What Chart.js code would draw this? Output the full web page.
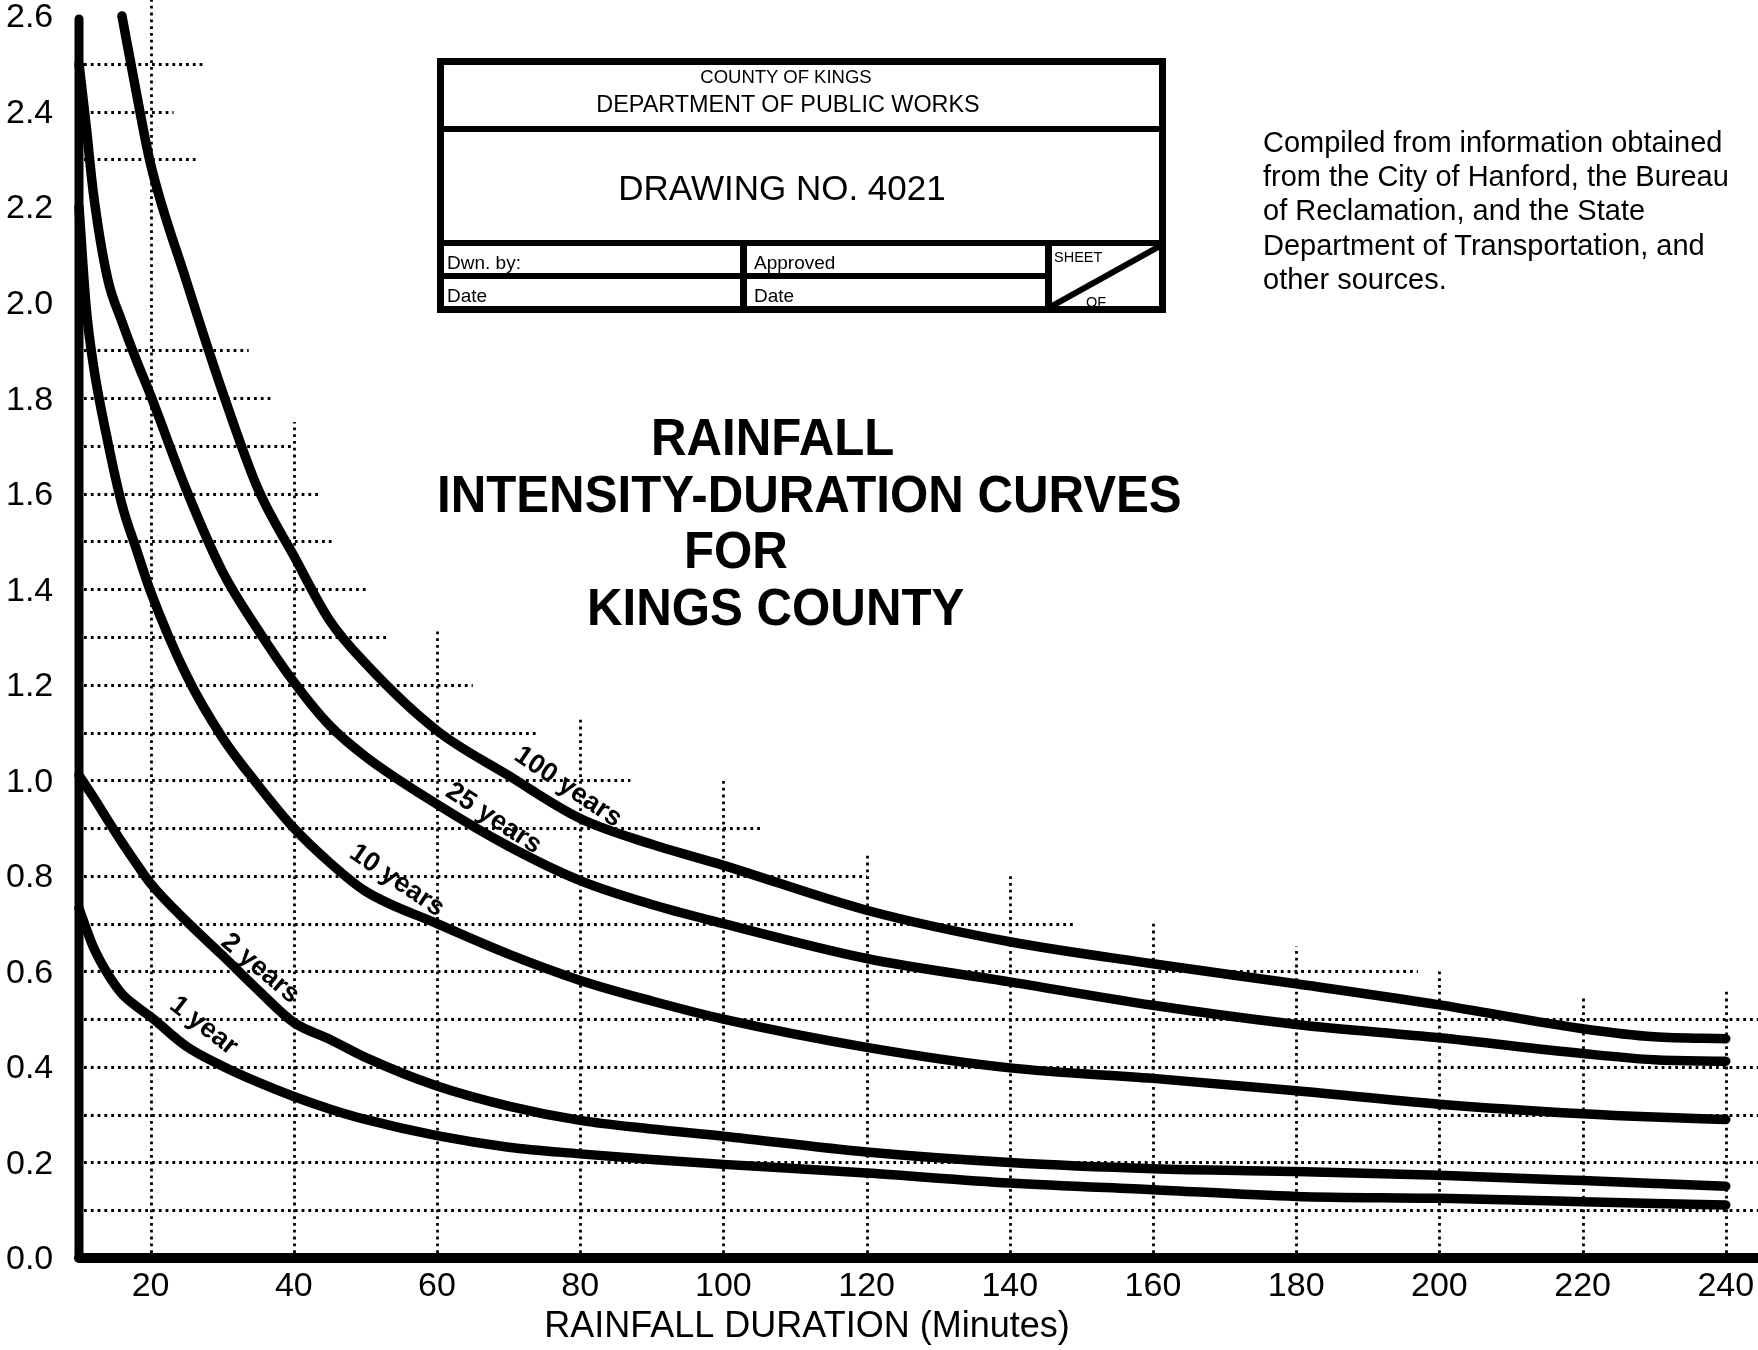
<!DOCTYPE html>
<html>
<head>
<meta charset="utf-8">
<script src="https://cdn.jsdelivr.net/npm/chart.js@4.4.1/dist/chart.umd.min.js"></script>
<style>
html,body{margin:0;padding:0;background:#fff;overflow:hidden}
#wrap{position:relative;width:1758px;height:1350px;background:#fff}
#chart{position:absolute;left:0;top:0}
.t{position:absolute;font-family:"Liberation Sans",Arial,Helvetica,sans-serif;color:#000;white-space:nowrap;line-height:1}
.c{transform:translate(-50%,-50%)}
.l{transform:translateY(-50%)}
.bd{position:absolute;background:#000}
.big{font-weight:bold;font-size:51px;transform-origin:0 50%;transform:translateY(-50%) scaleX(0.965)}
</style>
</head>
<body>
<div id="wrap">
<canvas id="chart" width="1758" height="1350"></canvas>

<!-- title block -->
<div class="bd" style="left:437px;top:58px;width:729px;height:7px"></div>
<div class="bd" style="left:437px;top:306px;width:729px;height:7px"></div>
<div class="bd" style="left:437px;top:58px;width:7px;height:255px"></div>
<div class="bd" style="left:1159px;top:58px;width:7px;height:255px"></div>
<div class="bd" style="left:437px;top:126px;width:729px;height:6px"></div>
<div class="bd" style="left:437px;top:240px;width:729px;height:6px"></div>
<div class="bd" style="left:437px;top:273px;width:612px;height:6px"></div>
<div class="bd" style="left:740px;top:240px;width:7px;height:73px"></div>
<div class="bd" style="left:1045px;top:240px;width:7px;height:73px"></div>
<div class="bd" style="left:1044px;top:273px;width:124px;height:6px;transform:rotate(-29deg)"></div>

<div class="t c" style="left:786px;top:77px;font-size:18.5px">COUNTY OF KINGS</div>
<div class="t c" style="left:788px;top:105px;font-size:23.4px">DEPARTMENT OF PUBLIC WORKS</div>
<div class="t c" style="left:782px;top:187px;font-size:35px">DRAWING NO. 4021</div>
<div class="t l" style="left:447px;top:262px;font-size:19px">Dwn. by:</div>
<div class="t l" style="left:754px;top:262px;font-size:19px">Approved</div>
<div class="t l" style="left:447px;top:295px;font-size:19px">Date</div>
<div class="t l" style="left:754px;top:295px;font-size:19px">Date</div>
<div class="t l" style="left:1054px;top:257px;font-size:14.5px">SHEET</div>
<div class="t l" style="left:1086px;top:302px;font-size:14.5px">OF</div>

<!-- notes -->
<div class="t" style="left:1263px;top:125px;font-size:29px;line-height:34.2px">Compiled from information obtained<br>from the City of Hanford, the Bureau<br>of Reclamation, and the State<br>Department of Transportation, and<br>other sources.</div>

<!-- main title -->
<div class="t big" style="left:651px;top:437px">RAINFALL</div>
<div class="t big" style="left:437px;top:494px">INTENSITY-DURATION CURVES</div>
<div class="t big" style="left:684px;top:550px">FOR</div>
<div class="t big" style="left:587px;top:607px">KINGS COUNTY</div>
</div>

<script>
// ---------- data ----------
const durations = [10, 11, 12, 14, 16, 18, 20, 25, 30, 35, 40, 45, 50, 60, 70, 80, 90, 100, 120, 140, 160, 180, 200, 220, 230, 240];
const year100 = [null, null, null, null, 2.60, 2.44, 2.29, 2.045, 1.815, 1.61, 1.47, 1.335, 1.245, 1.104, 1.01, 0.92, 0.866, 0.822, 0.728, 0.662, 0.616, 0.574, 0.53, 0.48, 0.463, 0.459];
const year25 = [2.50, 2.37, 2.23, 2.05, 1.96, 1.88, 1.806, 1.608, 1.438, 1.315, 1.206, 1.115, 1.05, 0.95, 0.862, 0.79, 0.740, 0.70, 0.627, 0.578, 0.529, 0.489, 0.461, 0.428, 0.415, 0.412];
const year10 = [2.20, 1.99, 1.87, 1.71, 1.577, 1.484, 1.395, 1.22, 1.09, 0.99, 0.90, 0.828, 0.768, 0.70, 0.636, 0.581, 0.538, 0.50, 0.441, 0.398, 0.376, 0.350, 0.322, 0.302, 0.295, 0.290];
const year2 = [1.01, 0.988, 0.965, 0.917, 0.87, 0.826, 0.784, 0.705, 0.634, 0.561, 0.493, 0.458, 0.42, 0.36, 0.318, 0.288, 0.27, 0.255, 0.222, 0.20, 0.187, 0.181, 0.173, 0.162, 0.156, 0.150];
const year1 = [0.732, 0.69, 0.651, 0.595, 0.553, 0.527, 0.505, 0.443, 0.402, 0.368, 0.338, 0.312, 0.29, 0.256, 0.232, 0.218, 0.206, 0.196, 0.178, 0.157, 0.143, 0.129, 0.125, 0.118, 0.114, 0.111];

const xTickValues = [20, 40, 60, 80, 100, 120, 140, 160, 180, 200, 220, 240];
const yTickValues = [0, 0.2, 0.4, 0.6, 0.8, 1.0, 1.2, 1.4, 1.6, 1.8, 2.0, 2.2, 2.4, 2.6];
const xMin = 10, xMax = 244.5, yMin = 0, yMax = 2.6;

// partial dotted grid of the original drawing
const hGridValues = [0.1, 0.2, 0.3, 0.4, 0.5, 0.6, 0.7, 0.8, 0.9, 1.0, 1.1, 1.2, 1.3, 1.4, 1.5, 1.6, 1.7, 1.8, 1.9, 2.3, 2.4, 2.5];
const hGridEnds   = [244.5, 244.5, 244.5, 244.5, 244.5, 197, 149, 120, 105.5, 87, 74, 65, 53.3, 50.4, 45.6, 43.8, 40, 37, 33.7, 26.5, 23.2, 27.3];
const vGridValues = [20, 40, 60, 80, 100, 120, 140, 160, 180, 200, 220, 240];
const vGridTops   = [2.66, 1.75, 1.32, 1.13, 1.0, 0.845, 0.80, 0.70, 0.652, 0.60, 0.547, 0.565];

const curveLabelText  = ["100 years", "25 years", "10 years", "2 years", "1 year"];
const curveLabelX     = [78.3, 67.9, 54.4, 35.3, 27.4];
const curveLabelY     = [0.986, 0.92, 0.79, 0.606, 0.486];
const curveLabelAngle = [34, 33, 34, 40, 38];

const xTitle = "RAINFALL DURATION (Minutes)";
const FONT = '"Liberation Sans", Arial, Helvetica, sans-serif';

const seriesList = [year100, year25, year10, year2, year1];
const seriesNames = ["100 years", "25 years", "10 years", "2 years", "1 year"];

function toPoints(arr) {
  const pts = [];
  durations.forEach((d, i) => { if (arr[i] !== null) pts.push({x: d, y: arr[i]}); });
  return pts;
}

const drawingPlugin = {
  id: 'drawing',
  beforeDatasetsDraw(chart) {
    const {ctx, scales: {x, y}} = chart;
    ctx.save();
    ctx.strokeStyle = '#000';
    ctx.lineWidth = 2.8;
    ctx.lineCap = 'butt';
    ctx.setLineDash([2.8, 4.0]);
    const x0 = x.getPixelForValue(xMin);
    const y0 = y.getPixelForValue(yMin);
    hGridValues.forEach((v, i) => {
      const py = Math.round(y.getPixelForValue(v)) + 0.5;
      ctx.beginPath();
      ctx.moveTo(x0 + 5, py);
      ctx.lineTo(x.getPixelForValue(hGridEnds[i]), py);
      ctx.stroke();
    });
    vGridValues.forEach((v, i) => {
      const px = Math.round(x.getPixelForValue(v)) + 0.5;
      ctx.beginPath();
      ctx.moveTo(px, y0 - 5);
      ctx.lineTo(px, y.getPixelForValue(vGridTops[i]));
      ctx.stroke();
    });
    ctx.restore();
  },
  afterDatasetsDraw(chart) {
    const {ctx, scales: {x, y}} = chart;
    ctx.save();
    // axes
    ctx.strokeStyle = '#000';
    ctx.lineCap = 'round';
    ctx.lineWidth = 9;
    ctx.beginPath();
    ctx.moveTo(x.getPixelForValue(xMin), y.getPixelForValue(yMin));
    ctx.lineTo(x.getPixelForValue(xMin), y.getPixelForValue(yMax) + 3);
    ctx.stroke();
    ctx.lineWidth = 10;
    ctx.beginPath();
    ctx.moveTo(x.getPixelForValue(xMin), y.getPixelForValue(yMin));
    ctx.lineTo(x.getPixelForValue(xMax) + 10, y.getPixelForValue(yMin));
    ctx.stroke();
    // curve labels
    ctx.fillStyle = '#000';
    ctx.font = 'bold 27px ' + FONT;
    ctx.textAlign = 'center';
    ctx.textBaseline = 'middle';
    curveLabelText.forEach((t, i) => {
      ctx.save();
      ctx.translate(x.getPixelForValue(curveLabelX[i]), y.getPixelForValue(curveLabelY[i]));
      ctx.rotate(curveLabelAngle[i] * Math.PI / 180);
      ctx.fillText(t, 0, 0);
      ctx.restore();
    });
    // axis title
    ctx.font = '36px ' + FONT;
    ctx.fillText(xTitle, 807, 1327);
    ctx.restore();
  }
};

new Chart(document.getElementById('chart'), {
  type: 'line',
  data: {
    datasets: seriesList.map((arr, i) => ({
      label: seriesNames[i],
      data: toPoints(arr),
      borderColor: '#000',
      backgroundColor: '#000',
      borderWidth: 9.5,
      pointRadius: 0,
      pointHoverRadius: 0,
      cubicInterpolationMode: 'monotone',
      borderCapStyle: 'round',
      borderJoinStyle: 'round',
      fill: false,
      clip: false
    }))
  },
  options: {
    responsive: false,
    animation: false,
    devicePixelRatio: 1,
    layout: {padding: {left: 6, top: 16, right: 0, bottom: 0}},
    plugins: {legend: {display: false}, tooltip: {enabled: false}, title: {display: false}},
    scales: {
      x: {
        type: 'linear', min: xMin, max: xMax,
        grid: {display: false, drawTicks: false},
        border: {display: false},
        afterBuildTicks: s => { s.ticks = xTickValues.map(v => ({value: v})); },
        afterFit: s => { s.height = 92; s.paddingLeft = 0; s.paddingRight = 0; },
        ticks: {
          autoSkip: false, maxRotation: 0, minRotation: 0, padding: 8, color: '#000',
          font: {family: FONT, size: 34},
          callback: v => String(v)
        }
      },
      y: {
        type: 'linear', min: yMin, max: yMax,
        grid: {display: false, drawTicks: false},
        border: {display: false},
        afterBuildTicks: s => { s.ticks = yTickValues.map(v => ({value: v})); },
        afterFit: s => { s.width = 73; s.paddingTop = 0; s.paddingBottom = 0; },
        ticks: {
          autoSkip: false, crossAlign: 'far', padding: 0, labelOffset: 2, color: '#000',
          font: {family: FONT, size: 34},
          callback: v => Number(v).toFixed(1)
        }
      }
    }
  },
  plugins: [drawingPlugin]
});
</script>
</body>
</html>
